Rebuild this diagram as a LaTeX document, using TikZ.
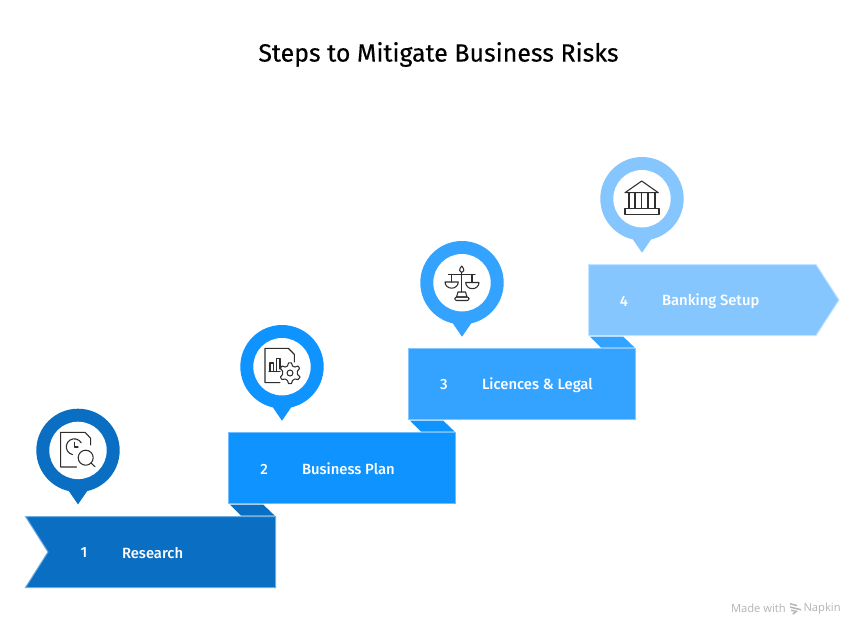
\documentclass[tikz,border=0pt]{standalone}
\usepackage{fontspec}
\setmainfont{Fira Sans}
\newfontfamily\medfont{Fira Sans Medium}
\newfontfamily\titlefont[FakeBold=0.3]{Fira Sans}
\newfontfamily\wmfont{Open Sans}
\usetikzlibrary{calc}
\definecolor{cA}{HTML}{0A6FC2}
\definecolor{cB}{HTML}{0F93FF}
\definecolor{cC}{HTML}{33A3FF}
\definecolor{cD}{HTML}{86C6FF}
\definecolor{eA}{HTML}{6FACE0}
\definecolor{eB}{HTML}{70BEFF}
\definecolor{eC}{HTML}{85C8FF}
\definecolor{eD}{HTML}{C3E2FF}
\definecolor{ink}{HTML}{2E2E2E}
\definecolor{wm}{HTML}{B4B4B4}
\tikzset{
  x=0.75pt,y=-0.75pt,
  px/.style={inner sep=0pt,outer sep=0pt},
  titletext/.style={px,font=\titlefont\fontsize{18.7pt}{23pt}\selectfont,text=black},
  steptext/.style={px,anchor=west,font=\medfont\fontsize{11.1pt}{13pt}\selectfont,text=white},
  numtext/.style={px,font=\medfont\fontsize{11.1pt}{13pt}\selectfont,text=white},
  wmtext/.style={px,font=\wmfont\fontsize{8.4pt}{10pt}\selectfont,text=wm},
  iconline/.style={draw=ink,line width=0.8pt,line join=round,line cap=round,fill=none},
  ribbonedge/.style={line width=0.75pt,line join=miter},
}
\newcommand{\pinshape}[4]{% x y fill name
  \fill[#3] (#1-11,#2+38) -- (#1,#2+54) -- (#1+11,#2+38) -- cycle;
  \fill[#3] (#1,#2) circle[radius=41.7];
  \fill[white] (#1,#2) circle[radius=28.7];
  \coordinate (#4) at (#1,#2);
}
\begin{document}
\begin{tikzpicture}
\useasboundingbox (0,0) rectangle (864,636);
\fill[white] (0,0) rectangle (864,636);
\node[titletext] (title) at (438.5,54.5) {Steps to Mitigate Business Risks};

% folds
\fill[cA] (230,504.7) -- (263.3,504.7) -- (274.8,515.7) -- (241,515.7) -- cycle;
\fill[cB] (410,420.7) -- (443.3,420.7) -- (454.8,431.7) -- (421,431.7) -- cycle;
\fill[cC] (590,336.7) -- (623.3,336.7) -- (634.8,347.7) -- (601,347.7) -- cycle;

% ribbons
\filldraw[fill=cA,draw=eA,ribbonedge] (25.5,516.5) -- (275.7,516.5) -- (275.7,587.5) -- (25.5,587.5) -- (48,552) -- cycle;
\filldraw[fill=cB,draw=eB,ribbonedge] (228.5,432.5) -- (455.5,432.5) -- (455.5,503.5) -- (228.5,503.5) -- cycle;
\filldraw[fill=cC,draw=eC,ribbonedge] (408.5,348.5) -- (635.5,348.5) -- (635.5,419.5) -- (408.5,419.5) -- cycle;
\filldraw[fill=cD,draw=eD,ribbonedge] (588.5,264.5) -- (816,264.5) -- (839,300) -- (816,335.5) -- (588.5,335.5) -- cycle;

% labels
\node[numtext] (n1) at (84,553) {1};
\node[steptext] (t1) at (122,553) {Research};
\node[numtext] (n2) at (264,469) {2};
\node[steptext] (t2) at (302,469) {Business Plan};
\node[numtext] (n3) at (444,385) {3};
\node[steptext] (t3) at (482,385) {Licences \& Legal};
\node[numtext] (n4) at (624,301) {4};
\node[steptext] (t4) at (662,301) {Banking Setup};

% pins
\pinshape{78}{450.4}{cA}{p1}
\pinshape{282}{366.7}{cB}{p2}
\pinshape{462}{282.7}{cC}{p3}
\pinshape{642}{198.7}{cD}{p4}

% icon 1
\draw[iconline] (76.7,467) -- (60.7,467) -- (60.7,432.3) -- (85,432.3) -- (90.7,438.3) -- (90.7,445);
\draw[iconline] (72.5,454.6) arc[start angle=103,end angle=330,radius=8];
\draw[iconline] (74.3,442.5) -- (74.3,447) -- (78,447);
\draw[iconline] (85.7,457.7) circle[radius=7.5];
\draw[iconline] (91,463) -- (95,466.7);

% icon 2
\draw[iconline] (280,382.7) -- (265,382.7) -- (265,348.3) -- (288.3,348.3) -- (294.3,354.3) -- (294.3,362);
\draw[iconline] (270,371.7) -- (270,363) -- (273.3,363) -- (273.3,371.7);
\draw[iconline] (276.7,371.7) -- (276.7,358.3) -- (280,358.3) -- (280,369);
\draw[iconline] (269,371.7) -- (280,371.7);
\draw[iconline] plot[smooth cycle,tension=0.25] coordinates {
 (288.5,363) (291.5,363) (292.5,366) (295,367) (298,366) (299.5,368.5) (297.5,371) (297.5,374.5) (300,377) (298,379.5) (295,379) (292.5,380.5) (291.5,383.5) (288.5,383.5) (287.5,380.5) (285,379) (282,379.5) (280.5,377) (282.5,374.5) (282.5,371) (280.5,368.5) (282,366) (285,367) (287.5,366)};
\draw[iconline] (290,373) circle[radius=3];

% icon 3
\draw[iconline] (461.7,272.5) -- (461.7,292);
\draw[iconline] (461.7,266) .. controls (465,269.5) and (464,272.5) .. (461.7,272.5) .. controls (459.4,272.5) and (458.4,269.5) .. (461.7,266);
\draw[iconline] (448.3,274.5) -- (475,274.5);
\draw[iconline] (451.7,274.5) -- (451.7,282);
\draw[iconline] (472,274.5) -- (472,282.5);
\draw[iconline] (445,282) -- (458.3,282) arc[start angle=0,end angle=180,x radius=6.65,y radius=6.2] -- cycle;
\draw[iconline] (465.7,282.5) -- (479,282.5) arc[start angle=0,end angle=180,x radius=6.65,y radius=6.2] -- cycle;
\draw[iconline] (458,292) -- (465.5,292) -- (467,297) -- (456.5,297) -- cycle;
\draw[iconline,rounded corners=1.5pt] (454.8,297) rectangle (469,300.5);

% icon 4
\draw[iconline] (625,192.7) -- (641.7,181) -- (658.3,192.7) -- cycle;
\draw[iconline] (629,193) -- (629,208.3) (635,193) -- (635,208.3) (641.7,193) -- (641.7,208.3) (648,193) -- (648,208.3) (655,193) -- (655,208.3);
\draw[iconline] (625,208.3) rectangle (659,214.3);

% watermark
\node[wmtext,anchor=west] (wm1) at (731,608.5) {Made with};
\fill[wm] (790,603) -- (797,604.8) -- (797,606.3) -- (790,604.5) -- cycle
          (790,606.3) -- (801,609) -- (801,610.5) -- (790,607.8) -- cycle
          (791,609.5) -- (798,611) -- (793.5,614.5) -- (792.3,613.5) -- (795,611.7) -- (791,611) -- cycle;
\node[wmtext,anchor=west] (wm2) at (803.5,608.5) {Napkin};
\end{tikzpicture}
\end{document}
